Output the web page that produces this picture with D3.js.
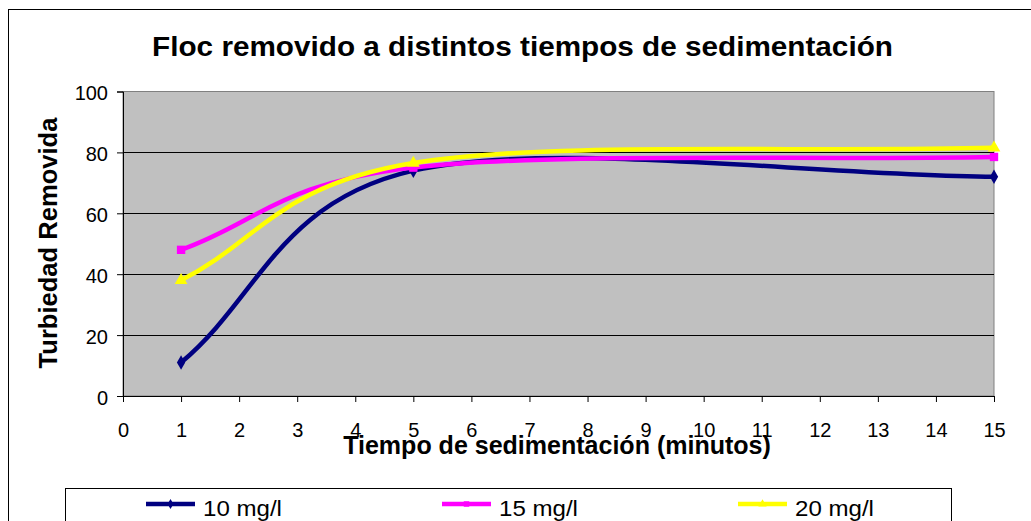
<!DOCTYPE html>
<html>
<head>
<meta charset="utf-8">
<script src="https://cdn.jsdelivr.net/npm/d3@7"></script>
<style>
  body { margin: 0; background: #fff; }
  svg { display: block; font-family: Arial, "Liberation Sans", sans-serif; }
</style>
</head>
<body>
<div id="chart"></div>
<script>
// minutes of settling
const tiempos = [1, 5, 15];
// turbidity removed (%) per coagulant dose
const serie10 = [11, 74, 72];
const serie15 = [48, 75, 78.5];
const serie20 = [38, 76.5, 81.5];
const seriesNames = ["10 mg/l", "15 mg/l", "20 mg/l"];
const seriesColors = ["#000080", "#FF00FF", "#FFFF00"];
const xTicks = d3.range(0, 16);
const yTicks = [0, 20, 40, 60, 80, 100];

const width = 1031, height = 521;
const svg = d3.select("#chart").append("svg")
  .attr("width", width)
  .attr("height", height);

// squeeze/stretch a text so it covers the same width as in the original
function fitText(sel, target, base) {
  const w = sel.node().getComputedTextLength();
  sel.attr("transform", `${base} scale(${target / w},1)`);
}

// Excel-like smoothing: Catmull-Rom handles, reflected end points
function smoothPath(pts) {
  const p = d3.path();
  p.moveTo(pts[0][0], pts[0][1]);
  for (let i = 0; i < pts.length - 1; i++) {
    const a = pts[i], b = pts[i + 1];
    const prev = pts[i - 1] || [2 * a[0] - b[0], 2 * a[1] - b[1]];
    const next = pts[i + 2] || [2 * b[0] - a[0], 2 * b[1] - a[1]];
    p.bezierCurveTo(
      a[0] + (b[0] - prev[0]) / 6, a[1] + (b[1] - prev[1]) / 6,
      b[0] - (next[0] - a[0]) / 6, b[1] - (next[1] - a[1]) / 6,
      b[0], b[1]);
  }
  return p.toString();
}

// outer chart border (runs off the right/bottom edges)
svg.append("rect")
  .attr("x", 8.5).attr("y", 9.5)
  .attr("width", 1040).attr("height", 540)
  .attr("fill", "#fff").attr("stroke", "#000");

const x = d3.scaleLinear().domain([0, 15]).range([123, 994]);
const y = d3.scaleLinear().domain([0, 100]).range([396, 91.5]);

// plot area
svg.append("rect")
  .attr("x", x(0)).attr("y", y(100))
  .attr("width", x(15) - x(0)).attr("height", y(0) - y(100))
  .attr("fill", "#C0C0C0").attr("stroke", "#808080");

// gridlines
svg.append("g")
  .selectAll("line")
  .data(yTicks.filter(d => d > 0 && d < 100))
  .join("line")
  .attr("x1", x(0)).attr("x2", x(15))
  .attr("y1", d => Math.round(y(d)) + 0.5).attr("y2", d => Math.round(y(d)) + 0.5)
  .attr("stroke", "#000");

// axes
const yAxis = svg.append("g")
  .attr("transform", `translate(${x(0)},0)`)
  .call(d3.axisLeft(y).tickValues(yTicks).tickSize(6).tickPadding(9));
const xAxis = svg.append("g")
  .attr("transform", `translate(0,${y(0)})`)
  .call(d3.axisBottom(x).tickValues(xTicks).tickSize(6).tickPadding(21));
[xAxis, yAxis].forEach(a => {
  a.select(".domain").attr("stroke", "#000");
  a.selectAll(".tick line").attr("stroke", "#000");
  a.selectAll("text")
    .attr("font-family", "Arial, 'Liberation Sans', sans-serif")
    .attr("font-size", 20).attr("fill", "#000");
});
yAxis.selectAll("text").attr("dy", "0.41em");
xAxis.selectAll("text").attr("dy", "0.71em");

// titles
const title = svg.append("text")
  .attr("text-anchor", "middle")
  .attr("font-size", 27).attr("font-weight", "bold")
  .text("Floc removido a distintos tiempos de sedimentación");
fitText(title, 741, "translate(522.5,56)");

const xTitle = svg.append("text")
  .attr("text-anchor", "middle")
  .attr("font-size", 25).attr("font-weight", "bold")
  .text("Tiempo de sedimentación (minutos)");
fitText(xTitle, 428, "translate(557,454)");

const yTitle = svg.append("text")
  .attr("text-anchor", "middle")
  .attr("font-size", 25).attr("font-weight", "bold")
  .text("Turbiedad Removida");
fitText(yTitle, 251, "translate(57,243) rotate(-90)");

// series
const series = [serie10, serie15, serie20].map((vals, i) => ({
  name: seriesNames[i],
  color: seriesColors[i],
  points: vals.map((v, j) => ({ t: tiempos[j], v }))
}));

const symbols = [d3.symbolDiamond, d3.symbolSquare, d3.symbolTriangle];
const symbolSizes = [60, 70, 70];

series.forEach((s, i) => {
  svg.append("path")
    .datum(s.points)
    .attr("d", d => smoothPath(d.map(p => [x(p.t), y(p.v)])))
    .attr("fill", "none")
    .attr("stroke", s.color)
    .attr("stroke-width", 4.5);
  svg.append("g")
    .selectAll("path")
    .data(s.points)
    .join("path")
    .attr("transform", d => `translate(${x(d.t)},${y(d.v)})`)
    .attr("d", d3.symbol(symbols[i], symbolSizes[i]))
    .attr("fill", s.color);
});

// legend
const legend = svg.append("g");
legend.append("rect")
  .attr("x", 65.5).attr("y", 488.5)
  .attr("width", 886).attr("height", 60)
  .attr("fill", "#fff").attr("stroke", "#000");

const legendX = d3.scalePoint().domain(seriesNames).range([146, 738]);
const item = legend.selectAll("g.item")
  .data(series)
  .join("g")
  .attr("class", "item")
  .attr("transform", d => `translate(${legendX(d.name)},504)`);
item.append("line")
  .attr("x1", 0).attr("x2", 49)
  .attr("stroke", d => d.color).attr("stroke-width", 4.5);
item.append("path")
  .attr("transform", "translate(24.5,0)")
  .attr("d", (d, i) => d3.symbol(symbols[i], 30)())
  .attr("fill", d => d.color);
item.append("text")
  .attr("font-size", 22.5)
  .text(d => d.name)
  .each(function() { fitText(d3.select(this), 79, "translate(57,11.5)"); });
</script>
</body>
</html>
